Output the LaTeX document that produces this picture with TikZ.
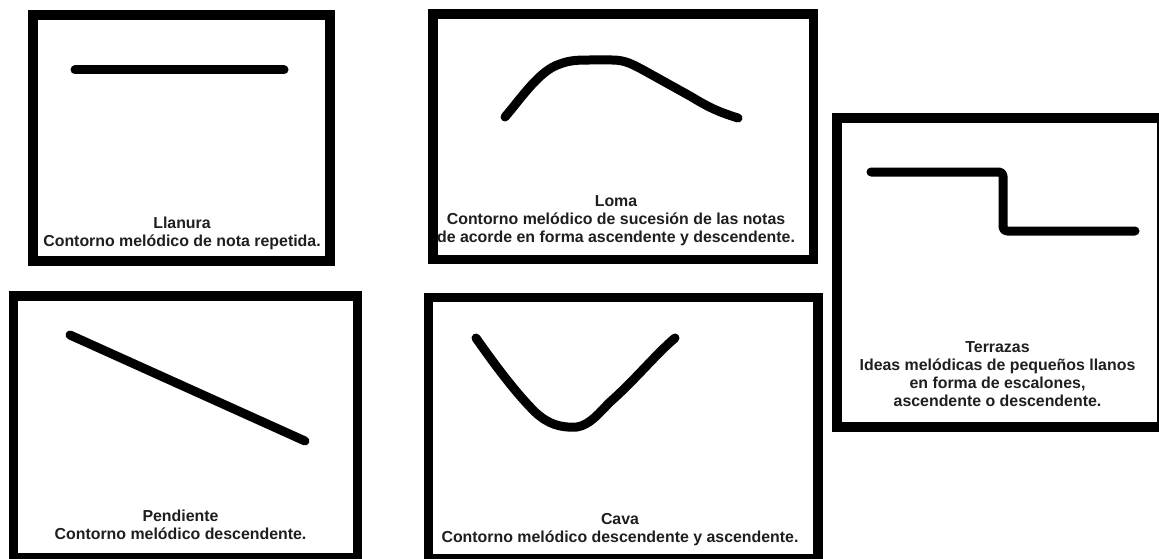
\documentclass[tikz,border=0pt]{standalone}
\usepackage{fontspec}
\setmainfont{Liberation Sans}
\begin{document}
\begin{tikzpicture}[x=1pt,y=-1pt,
  frame/.style={draw=black,line width=9.5pt,fill=none,inner sep=0pt,outer sep=0pt},
  contour/.style={draw=black,line width=9pt,line cap=round,line join=round},
  caption/.style={align=center,inner sep=0pt,anchor=south,text depth=0pt,text=black!88,
    font=\fontsize{15.9}{18}\selectfont\bfseries}]
\useasboundingbox (0,0) rectangle (1159,559);
\fill[white] (0,0) rectangle (1159,559);
\clip (0,0) rectangle (1159,559);
% frames
\node[frame,minimum width=297pt,minimum height=246pt] (llanura) at (181.5,138) {};
\node[frame,minimum width=380.5pt,minimum height=245.5pt] (loma) at (623.25,136.75) {};
\node[frame,minimum width=325pt,minimum height=309pt] (terrazas) at (999.5,272.5) {};
\node[frame,minimum width=344pt,minimum height=262pt] (pendiente) at (185.5,427) {};
\node[frame,minimum width=389.5pt,minimum height=261.5pt] (cava) at (623.25,428.25) {};
% contours
\draw[contour] (75,70) -- (284,70);
\draw[contour] (505,117) .. controls (522,97) and (540,70) .. (560,64)
  .. controls (570,60) and (580,60) .. (590,60) -- (612,60)
  .. controls (625,60) and (632,64) .. (645,71)
  -- (690,96) .. controls (705,105) and (715,111) .. (738,118);
\draw[contour] (70,335) -- (305,441);
\draw[contour] (476,338) .. controls (495,365) and (515,392) .. (535,412)
  .. controls (548,424) and (560,428) .. (577,427)
  .. controls (590,425) and (600,412) .. (610,402)
  .. controls (635,380) and (655,355) .. (675,338);
\draw[contour,rounded corners=4pt] (871,172) -- (1003,172) -- (1003,231) -- (1135,231);
% captions
\node[caption] (t1) at (182,247) {Llanura\\Contorno melódico de nota repetida.};
\node[caption] (t2) at (616,243) {Loma\\Contorno melódico de sucesión de las notas\\de acorde en forma ascendente y descendente.};
\node[caption] (t3) at (997.5,407) {Terrazas\\Ideas melódicas de pequeños llanos\\en forma de escalones,\\ascendente o descendente.};
\node[caption] (t4) at (180.5,540) {Pendiente\\Contorno melódico descendente.};
\node[caption] (t5) at (620,543) {Cava\\Contorno melódico descendente y ascendente.};
\end{tikzpicture}
\end{document}
